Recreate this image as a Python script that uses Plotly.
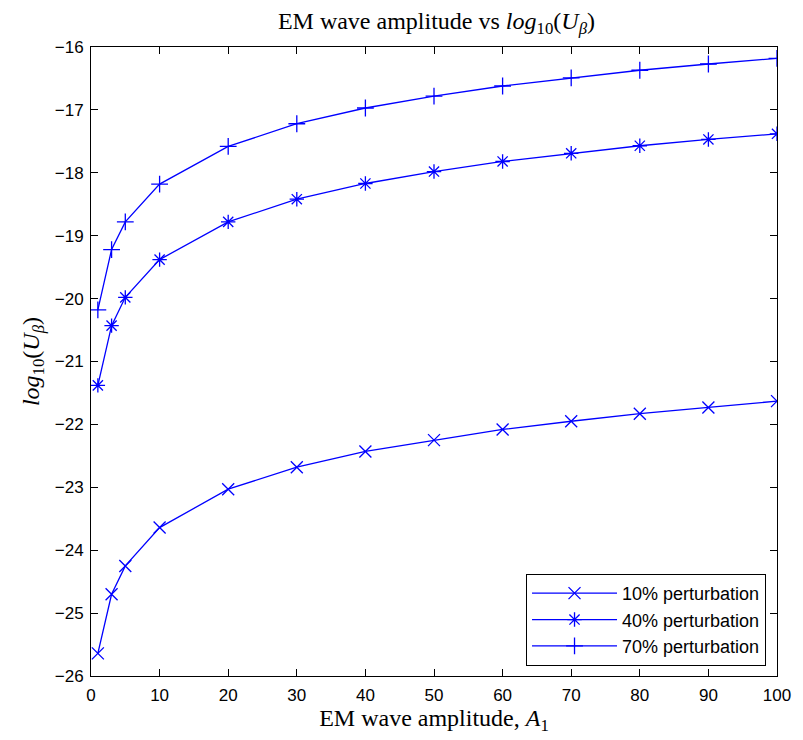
import plotly.graph_objects as go

amplitude = [1, 3, 5, 10, 20, 30, 40, 50, 60, 70, 80, 90, 100]
pert_10 = [-25.64, -24.70, -24.25, -23.64, -23.03, -22.68, -22.43, -22.25, -22.08, -21.95, -21.83, -21.73, -21.63]
pert_40 = [-21.38, -20.43, -19.98, -19.38, -18.78, -18.42, -18.17, -17.98, -17.82, -17.69, -17.57, -17.47, -17.38]
pert_70 = [-20.18, -19.22, -18.78, -18.18, -17.58, -17.22, -16.97, -16.78, -16.62, -16.49, -16.37, -16.27, -16.18]

series = [
    ("10% perturbation", pert_10, "x-thin-open"),
    ("40% perturbation", pert_40, "asterisk-open"),
    ("70% perturbation", pert_70, "cross-thin-open"),
]

fig = go.Figure()
for name, vals, sym in series:
    fig.add_trace(go.Scatter(
        x=amplitude, y=vals, name=name, mode="lines+markers",
        line=dict(color="#0000FF", width=1.3),
        marker=dict(symbol=sym, size=12, color="#0000FF",
                    line=dict(color="#0000FF", width=1.3)),
    ))

serif = "Liberation Serif, DejaVu Serif, serif"
sans = "Liberation Sans, Arial, sans-serif"

axis_common = dict(
    showgrid=False, zeroline=False, showline=True, linecolor="black", linewidth=1,
    mirror="ticks", ticks="inside", ticklen=7, tickcolor="black", tickwidth=1,
    tickfont=dict(family=sans, size=17, color="black"),
)

fig.update_layout(
    width=803, height=740,
    margin=dict(l=91, r=21, t=47, b=64),
    paper_bgcolor="white", plot_bgcolor="white",
    title=dict(
        text="EM wave amplitude vs <i>log</i><sub>10</sub>(<i>U</i><sub><i>β</i></sub>)",
        x=0.5435, xanchor="center", y=0.972, yanchor="middle",
        font=dict(family=serif, size=24, color="black"),
    ),
    xaxis=dict(
        range=[0, 100], dtick=10, tick0=0, ticklabelstandoff=4,
        title=dict(text="EM wave amplitude, <i>A</i><sub>1</sub>",
                   font=dict(family=serif, size=24, color="black"), standoff=2),
        **axis_common,
    ),
    yaxis=dict(
        range=[-26, -16], dtick=1, tick0=-26, ticklabelstandoff=3,
        title=dict(text="<i>log</i><sub>10</sub>(<i>U</i><sub><i>β</i></sub>)",
                   font=dict(family=serif, size=24, color="black"), standoff=8),
        **axis_common,
    ),
    legend=dict(
        x=0.984, y=0.016, xanchor="right", yanchor="bottom",
        bgcolor="white", bordercolor="black", borderwidth=1,
        font=dict(family=sans, size=18, color="black"),
        tracegroupgap=0, itemwidth=85,
    ),
)

fig.write_html("out.html", config={"displayModeBar": False},
               post_script="document.body.style.margin='0';")
